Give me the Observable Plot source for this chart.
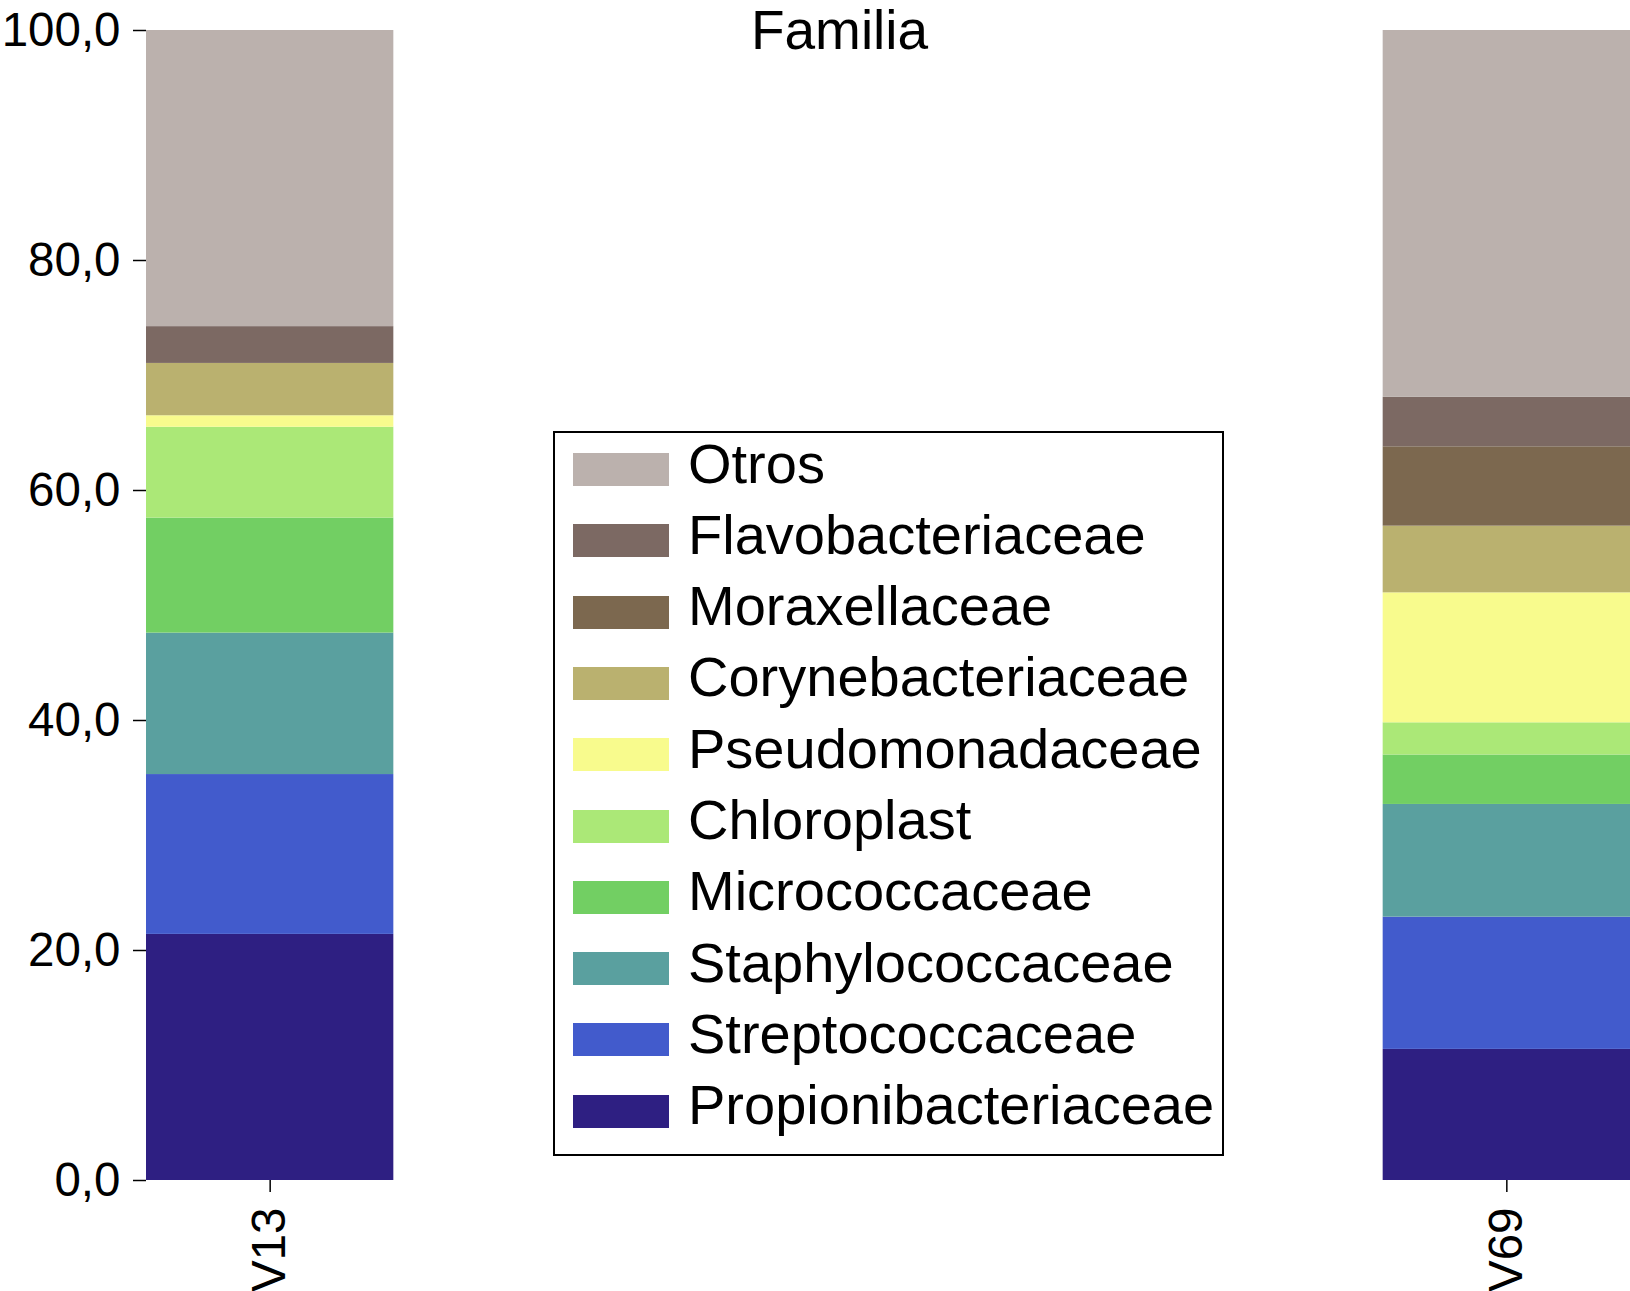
<!DOCTYPE html>
<html>
<head>
<meta charset="utf-8">
<script src="https://cdn.jsdelivr.net/npm/d3@7"></script>
<script src="https://cdn.jsdelivr.net/npm/@observablehq/plot@0.6"></script>
<style>
  body { margin: 0; background: #fff; font-family: "Liberation Sans", Arial, sans-serif; }
  #wrap { position: relative; width: 1630px; height: 1291px; overflow: hidden; }
  #legend {
    position: absolute; left: 553px; top: 431px; width: 671px; height: 725px;
    border: 2.5px solid #000; box-sizing: border-box; background: #fff;
  }
  #legend .sw { position: absolute; left: 18px; width: 96px; height: 33px; }
  #legend .lb { position: absolute; left: 133px; font-size: 56px; line-height: 56px; white-space: nowrap; color: #000; }
</style>
</head>
<body>
<div id="wrap">
  <div id="chart"></div>
  <div id="legend"></div>
</div>
<script>
const title = "Familia";
const samples = ["V13", "V69"];
// bottom to top of the stack
const families = [
  "Propionibacteriaceae", "Streptococcaceae", "Staphylococcaceae", "Micrococcaceae",
  "Chloroplast", "Pseudomonadaceae", "Corynebacteriaceae", "Moraxellaceae",
  "Flavobacteriaceae", "Otros"
];
const v13 = [21.4, 13.9, 12.3, 10.0, 7.9, 1.0, 4.55, 0, 3.2, 25.75];
const v69 = [11.4, 11.5, 9.8, 4.3, 2.8, 11.3, 5.8, 6.9, 4.3, 31.9];
const colors = [
  "#2e1f82", "#425bcc", "#5aa09f", "#72cf63", "#abe877",
  "#f8fb8d", "#bab16f", "#7c684f", "#7c6963", "#bbb1ad"
];
const yTicks = [0, 20, 40, 60, 80, 100];

const rows = [];
families.forEach((f, i) => {
  rows.push({sample: "V13", familia: f, value: v13[i]});
  rows.push({sample: "V69", familia: f, value: v69[i]});
});

const fmt = (d) => d.toFixed(1).replace(".", ",");

const chart = Plot.plot({
  width: 1630,
  height: 1291,
  marginTop: 30,
  marginBottom: 111,
  marginLeft: 146,
  marginRight: 0,
  style: {background: "#fff", fontFamily: "Liberation Sans, Arial, sans-serif", color: "#000", overflow: "visible"},
  x: {type: "band", domain: samples, paddingInner: 0.8, paddingOuter: 0, align: 0, round: false},
  y: {domain: [0, 100]},
  color: {domain: families, range: colors},
  marks: [
    Plot.barY(rows, {x: "sample", y: "value", fill: "familia", order: families}),
    Plot.axisY({ticks: yTicks, tickFormat: fmt, tickSize: 13, tickPadding: 13, fontSize: 47.5, label: null, strokeWidth: 1.5}),
    Plot.axisX({tickRotate: -90, tickSize: 12, tickPadding: 15, fontSize: 47.5, label: null, strokeWidth: 1.5}),
    Plot.text([title], {frameAnchor: "top-left", dx: 693, dy: 18, lineAnchor: "bottom", textAnchor: "middle", fontSize: 55, fill: "#000"})
  ]
});
d3.select("#chart").append(() => chart);

// legend, top entry = top of the stack
const legend = d3.select("#legend");
families.slice().reverse().forEach((f, i) => {
  const top = 20 + i * 71.3;
  legend.append("div").attr("class", "sw")
    .style("top", top + "px")
    .style("background", colors[families.indexOf(f)]);
  legend.append("div").attr("class", "lb")
    .style("top", (top - 17.5) + "px")
    .text(f);
});
</script>
</body>
</html>
